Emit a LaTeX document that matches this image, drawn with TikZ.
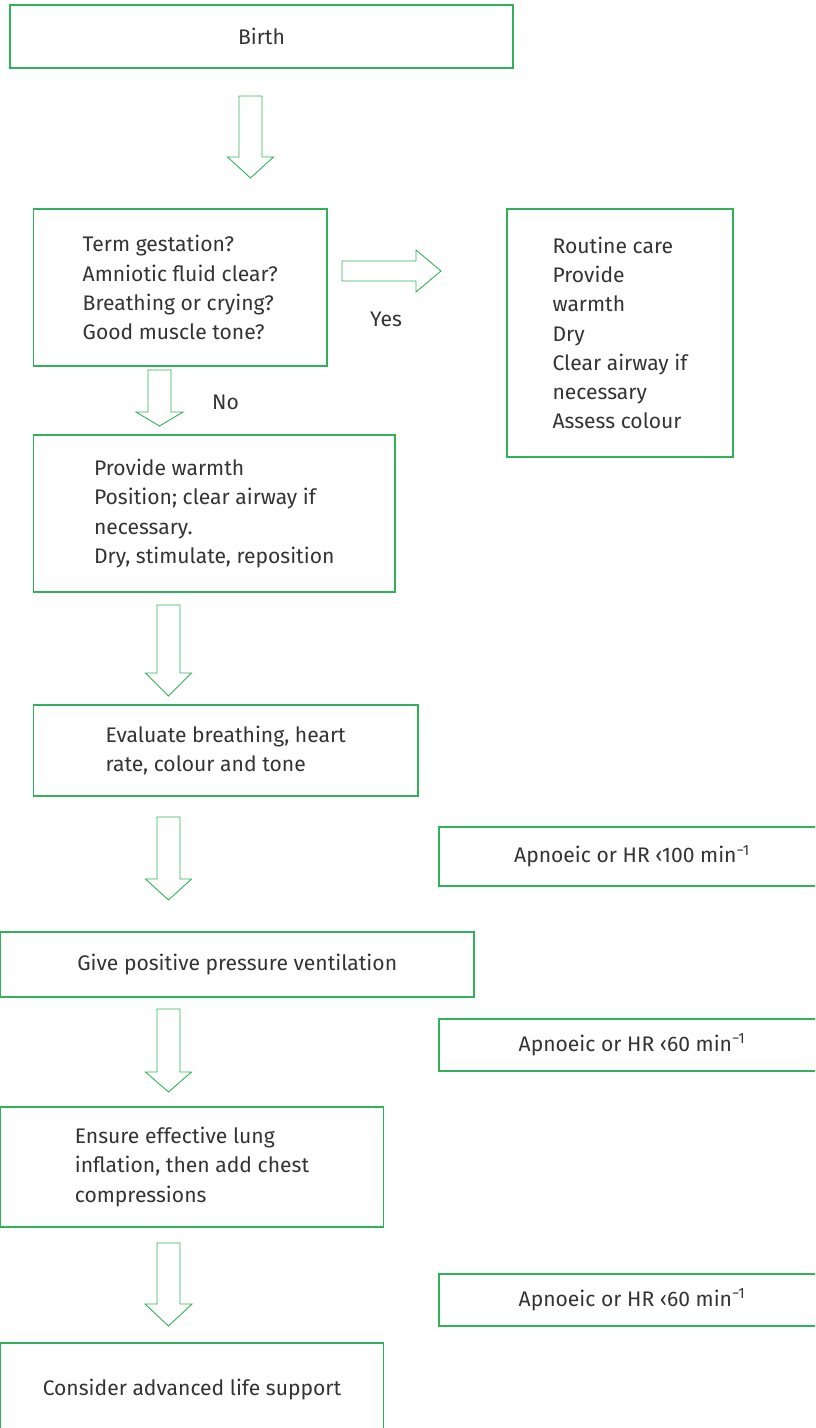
\documentclass[tikz,border=0pt]{standalone}
\usepackage{fontspec}
\setmainfont{Fira Sans}
\definecolor{boxgreen}{HTML}{2FB25A}
\definecolor{ink}{HTML}{333333}
\tikzset{
  chartbox/.style={draw=boxgreen, line width=1.1pt, rectangle, inner sep=0pt,
    text=ink, align=left, font=\fontsize{21.1}{29.2}\selectfont},
  chartlabel/.style={inner sep=0pt, text=ink, font=\fontsize{21.1}{29.2}\selectfont},
  blockarrow/.style={draw=boxgreen, line width=0.9pt, line join=miter}
}
% vertical block arrow: centre x, top, head base, tip, head half-width
\newcommand{\downblock}[5]{%
  \draw[blockarrow] (#1-11.5,#2) -- (#1+11.5,#2) -- (#1+11.5,#3) -- (#1+#5,#3)
    -- (#1,#4) -- (#1-#5,#3) -- (#1-11.5,#3) -- cycle;}
\begin{document}
\begin{tikzpicture}[x=1pt, y=-1pt]
\useasboundingbox (0,0) rectangle (815,1428);
\clip (0,0) rectangle (815,1428);

% boxes
\node[chartbox, minimum width=503pt, minimum height=63pt] (birth) at (261.5,36.5) {Birth};
\node[chartbox, minimum width=293.5pt, minimum height=157pt] (assess) at (180.25,287.5)
  {Term gestation?\\Amniotic fluid clear?\\Breathing or crying?\\Good muscle tone?};
\node[chartbox, minimum width=226pt, minimum height=248pt] (routine) at (620,333)
  {Routine care\\Provide\\warmth\\Dry\\Clear airway if\\necessary\\Assess colour};
\node[chartbox, minimum width=361.5pt, minimum height=157pt] (warmth) at (214.25,513.5)
  {Provide warmth\\Position; clear airway if\\necessary.\\Dry, stimulate, reposition};
\node[chartbox, minimum width=384.5pt, minimum height=91pt] (evaluate) at (225.75,750.5)
  {Evaluate breathing, heart\\rate, colour and tone};
\node[chartbox, minimum width=386pt, minimum height=59pt] (hr100) at (632,856.5)
  {Apnoeic or HR ‹100 min\textsuperscript{−1}};
\node[chartbox, minimum width=473.5pt, minimum height=65pt] (ppv) at (237.25,964.5)
  {Give positive pressure ventilation};
\node[chartbox, minimum width=386pt, minimum height=52pt] (hr60a) at (632,1045)
  {Apnoeic or HR ‹60 min\textsuperscript{−1}};
\node[chartbox, minimum width=383pt, minimum height=120pt] (compress) at (192,1167)
  {Ensure effective lung\\inflation, then add chest\\compressions};
\node[chartbox, minimum width=386pt, minimum height=52pt] (hr60b) at (632,1300)
  {Apnoeic or HR ‹60 min\textsuperscript{−1}};
\node[chartbox, minimum width=383pt, minimum height=94pt] (als) at (192,1390)
  {Consider advanced life support};

% block arrows between the boxes
\downblock{250.5}{96}{157}{178}{23}
\draw[blockarrow] (342,261) -- (416,261) -- (416,250) -- (441,271) -- (416,292)
  -- (416,281) -- (342,281) -- cycle;
\downblock{159.5}{370}{412}{426}{23.5}
\downblock{168.5}{605}{673}{696}{23}
\downblock{168.5}{817}{879}{900}{23}
\downblock{168.5}{1009}{1072}{1092}{23}
\downblock{168.5}{1243}{1304}{1326}{23.5}

% answer labels
\node[chartlabel, anchor=base] (yes) at (386,326) {Yes};
\node[chartlabel, anchor=base west] (no) at (212,409) {No};
\end{tikzpicture}
\end{document}
